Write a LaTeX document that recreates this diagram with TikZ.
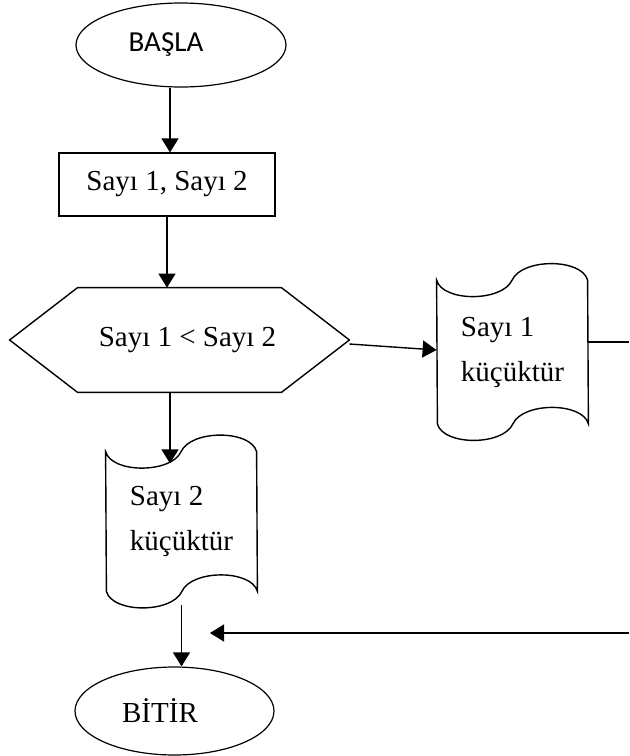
\documentclass[tikz,border=0pt]{standalone}
\usepackage{fontspec}
\setmainfont{Liberation Serif}
\newfontfamily\calib{Carlito}
\usetikzlibrary{arrows.meta,shapes.geometric}
\tikzset{
  base/.style={inner sep=0pt, font=\fontsize{14.5}{22.5}\selectfont},
  term/.style={base, ellipse, draw, line width=0.6pt},
  procbox/.style={base, rectangle, draw, line width=0.6pt},
  shapebox/.style={base, rectangle, draw=none},
  outline/.style={line width=0.7pt},
  arr/.style={line width=0.7pt, -{Triangle[length=7pt,width=8.5pt]}},
  plain/.style={line width=0.7pt}
}
\newcommand{\tapedraw}[1]{%
  \draw[outline] (#1.north west)
    .. controls +(3pt,-11pt) and +(-5pt,-11pt) .. ++(37.75pt,0)
    .. controls +(5pt,11pt) and +(-3pt,11pt) .. ++(37.75pt,0)
    -- (#1.south east)
    .. controls +(-3pt,11pt) and +(5pt,11pt) .. ++(-37.75pt,0)
    .. controls +(-5pt,-11pt) and +(3pt,-11pt) .. ++(-37.75pt,0)
    -- cycle;}
\begin{document}
\begin{tikzpicture}[x=0.5pt,y=-0.5pt]
\useasboundingbox (0,0) rectangle (629,756);
% nodes
\node[term, minimum width=105pt, minimum height=42pt] (basla) at (181,45) {\calib BAŞLA\hspace*{15pt}};
\node[procbox, minimum width=108pt, minimum height=31.5pt] (rect) at (167,184.5) {Sayı 1, Sayı 2};
\node[shapebox, minimum width=169.5pt, minimum height=52pt] (hex) at (179.5,340) {\hspace*{8pt}Sayı 1 < Sayı 2};
\draw[outline] (hex.west) -- ([xshift=34pt]hex.north west) -- ([xshift=-34pt]hex.north east)
  -- (hex.east) -- ([xshift=-34pt]hex.south east) -- ([xshift=34pt]hex.south west) -- cycle;
\node[shapebox, minimum width=75.5pt, minimum height=71.5pt, align=left] (doca) at (512.5,352) {Sayı 1\\küçüktür};
\tapedraw{doca}
\node[shapebox, minimum width=75.5pt, minimum height=69.5pt, align=left] (docb) at (181.5,521.5) {Sayı 2\\küçüktür};
\tapedraw{docb}
\node[term, minimum width=99.5pt, minimum height=44pt] (bitir) at (174.5,711) {BİTİR\hspace*{14.5pt}};
% connectors
\draw[arr] ([xshift=-5.5pt]basla.south) -- ([xshift=-5.5pt]basla.south |- rect.north);
\draw[arr] (rect.south) -- (rect.south |- hex.north);
\draw[arr] ([yshift=-2pt]hex.east) -- ([yshift=1pt]doca.west);
\draw[arr] ([xshift=-4.75pt]hex.south) -- ++(0,71);
\coordinate (rout) at (629,342);
\draw[plain] (doca.east |- rout) -- (rout);
\draw[arr, shorten <=7pt] (docb.south) -- (docb.south |- bitir.north);
\coordinate (rin) at (629,633);
\coordinate (lin) at (210,633);
\draw[arr] (rin) -- (lin);
\end{tikzpicture}
\end{document}
